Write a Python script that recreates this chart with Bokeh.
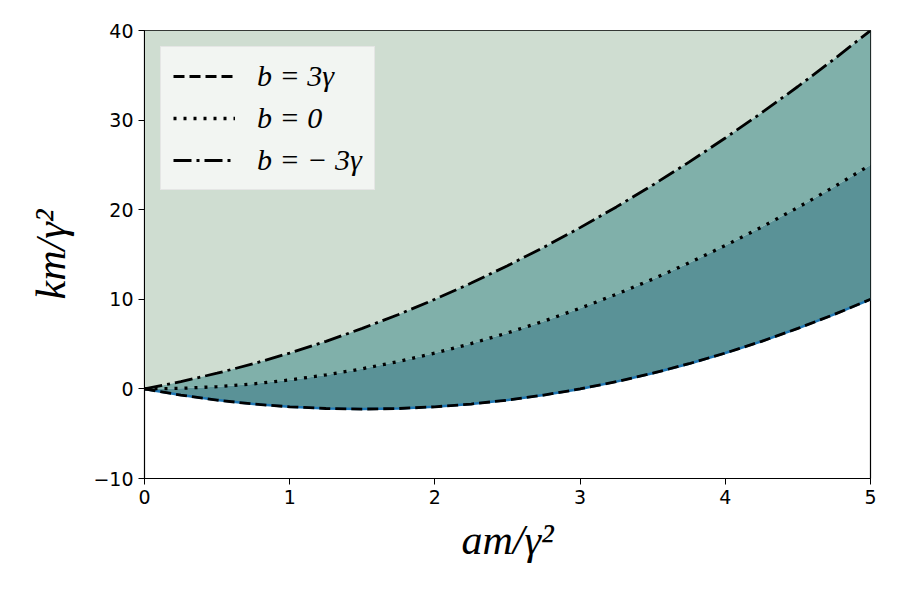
from bokeh.plotting import figure
from bokeh.models import ColumnDataSource, Legend, LegendItem, FixedTicker, Range1d
from bokeh.embed import file_html
from bokeh.resources import INLINE

# values
am = [0.0, 0.25, 0.5, 0.75, 1.0, 1.25, 1.5, 1.75, 2.0, 2.25, 2.5, 2.75, 3.0,
      3.25, 3.5, 3.75, 4.0, 4.25, 4.5, 4.75, 5.0]
km_b_pos = [0.0, -0.69, -1.25, -1.69, -2.0, -2.19, -2.25, -2.19, -2.0, -1.69, -1.25,
            -0.69, 0.0, 0.81, 1.75, 2.81, 4.0, 5.31, 6.75, 8.31, 10.0]
km_b_zero = [0.0, 0.06, 0.25, 0.56, 1.0, 1.56, 2.25, 3.06, 4.0, 5.06, 6.25,
             7.56, 9.0, 10.56, 12.25, 14.06, 16.0, 18.06, 20.25, 22.56, 25.0]
km_b_neg = [0.0, 0.81, 1.75, 2.81, 4.0, 5.31, 6.75, 8.31, 10.0, 11.81, 13.75,
            15.81, 18.0, 20.31, 22.75, 25.31, 28.0, 30.81, 33.75, 36.81, 40.0]
y_top = [40.0] * len(am)
labels = ["b = 3γ", "b = 0", "b = − 3γ"]
x_ticks = [0, 1, 2, 3, 4, 5]
y_ticks = [-10, 0, 10, 20, 30, 40]

src = ColumnDataSource(dict(x=am, lo=km_b_pos, mid=km_b_zero, hi=km_b_neg, top=y_top))

p = figure(width=900, height=600, output_backend="svg", toolbar_location=None,
           x_range=Range1d(0, 5), y_range=Range1d(-10, 40),
           min_border_left=144, min_border_right=30, min_border_top=30,
           min_border_bottom=122)
p.xgrid.visible = False
p.ygrid.visible = False
p.outline_line_color = "black"
p.outline_line_width = 1.2
p.background_fill_color = "white"

p.varea(x="x", y1="hi", y2="top", source=src, fill_color="#cfddd1")
p.varea(x="x", y1="mid", y2="hi", source=src, fill_color="#80b0aa")
p.varea(x="x", y1="lo", y2="mid", source=src, fill_color="#5a9297")

p.line(x="x", y="lo", source=src, line_color="#1f77b4", line_width=2.5)
r1 = p.line(x="x", y="lo", source=src, line_color="black", line_width=2.8, line_dash="11 5")
r2 = p.line(x="x", y="mid", source=src, line_color="black", line_width=3.3, line_dash="3 7")
r3 = p.line(x="x", y="hi", source=src, line_color="black", line_width=2.8, line_dash="18 5 3 5")

for ax in (p.xaxis, p.yaxis):
    ax.axis_line_color = "black"
    ax.major_tick_line_color = "black"
    ax.major_tick_out = 6
    ax.major_tick_in = 0
    ax.minor_tick_line_color = None
    ax.major_label_text_font = "DejaVu Sans"
    ax.major_label_text_font_size = "19px"
    ax.major_label_text_color = "black"
    ax.axis_label_text_font = "Liberation Serif"
    ax.axis_label_text_font_style = "italic"
    ax.axis_label_text_font_size = "42px"
    ax.axis_label_text_color = "black"

p.xaxis.ticker = FixedTicker(ticks=x_ticks)
p.yaxis.ticker = FixedTicker(ticks=y_ticks)
p.yaxis.major_label_overrides = {t: (str(t).replace("-", "−")) for t in y_ticks}
p.xaxis.axis_label = "am/γ²"
p.yaxis.axis_label = "km/γ²"
p.xaxis.axis_label_standoff = 10
p.yaxis.axis_label_standoff = 16

legend = Legend(items=[LegendItem(label=labels[0], renderers=[r1]),
                       LegendItem(label=labels[1], renderers=[r2]),
                       LegendItem(label=labels[2], renderers=[r3])],
                location="top_left")
legend.margin = 16
legend.padding = 12
legend.spacing = 8
legend.glyph_width = 62
legend.glyph_height = 34
legend.label_standoff = 22
legend.label_text_font = "Liberation Serif"
legend.label_text_font_style = "italic"
legend.label_text_font_size = "30px"
legend.label_text_color = "black"
legend.background_fill_color = "#f5f7f5"
legend.background_fill_alpha = 0.9
legend.border_line_color = "#d8d8d8"
legend.border_line_width = 1
p.add_layout(legend)

open("out.html", "w").write(file_html(p, INLINE))
